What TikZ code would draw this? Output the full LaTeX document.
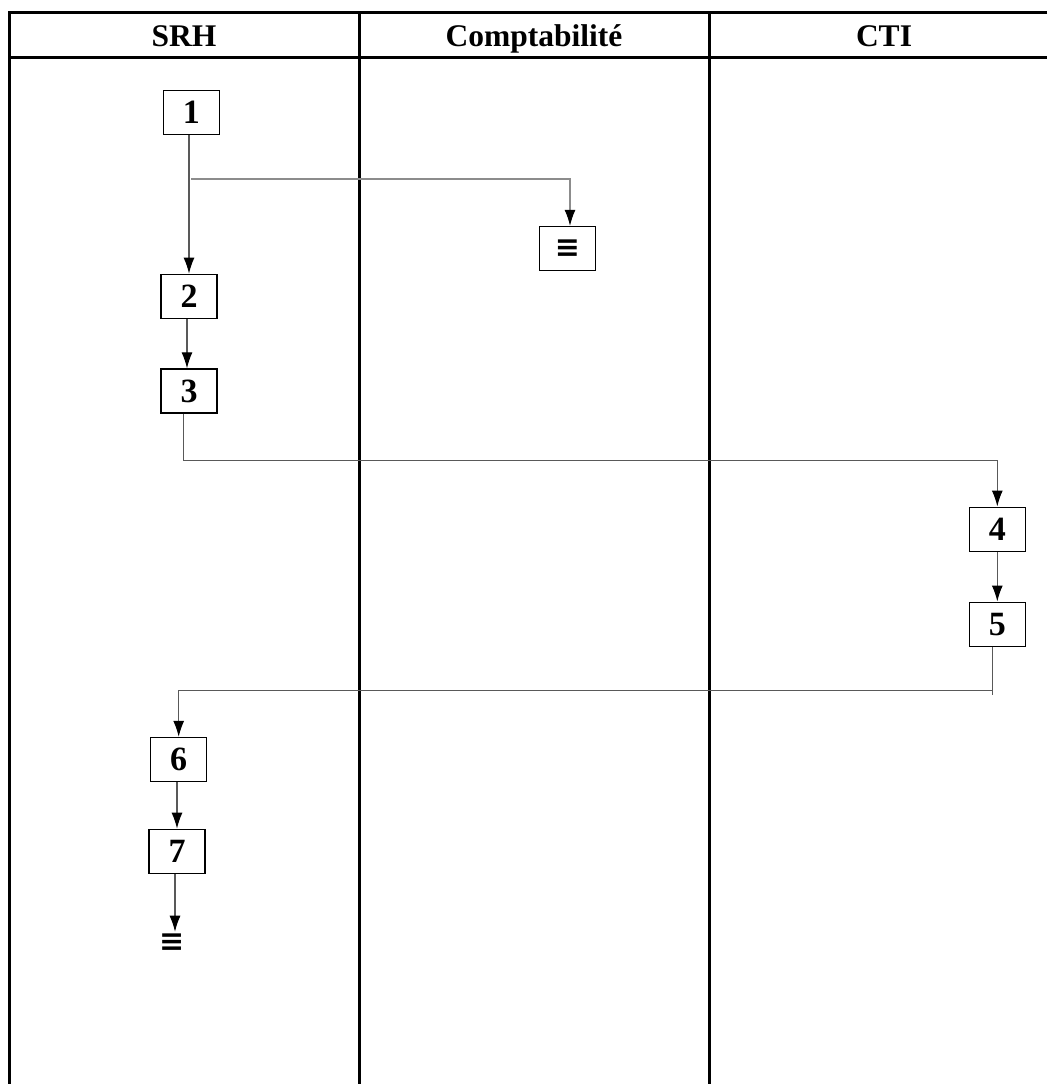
\documentclass[tikz,border=0pt]{standalone}
\usepackage{fontspec}
\setmainfont{Liberation Serif}
\newfontfamily\symfont{DejaVu Sans}
\usetikzlibrary{arrows.meta, calc}
\tikzset{
    lane/.style={line width=3pt},
    head/.style={anchor=base, font=\fontsize{31.5}{36}\selectfont\bfseries},
    stepbox/.style={rectangle, draw, line width=1.4pt, minimum width=56pt, minimum height=44pt, inner sep=0pt, font=\fontsize{34}{36}\selectfont\bfseries},
    docbox/.style={stepbox, font=\symfont\fontsize{30}{30}\selectfont\bfseries},
    docmark/.style={inner sep=0pt, font=\symfont\fontsize{30}{30}\selectfont\bfseries},
    link/.style={line width=1.1pt, black!65},
    arrow/.style={link, -{Latex[length=16pt, width=11pt, black]}},
}
\begin{document}
\begin{tikzpicture}[x=1pt, y=-1pt]
    \useasboundingbox (0,0) rectangle (1047,1084);
    \draw[lane] (1047,12) -- (9,12) -- (9,1084);
    \draw[lane] (9,57) -- (1047,57);
    \draw[lane] (359,12) -- (359,1084);
    \draw[lane] (709,12) -- (709,1084);
    \node[head] (hSRH) at (184,46.5) {SRH};
    \node[head] (hCompta) at (534,46.5) {Comptabilité};
    \node[head] (hCTI) at (884,46.5) {CTI};

    \node[stepbox] (b1) at (191.3,112.5) {1};
    \node[docbox] (doc1) at (567.5,248.5) {≡};
    \node[stepbox] (b2) at (189,296.3) {2};
    \node[stepbox] (b3) at (189,391) {3};
    \node[stepbox] (b4) at (997.3,529.2) {4};
    \node[stepbox] (b5) at (997.3,624.2) {5};
    \node[stepbox] (b6) at (178.7,759.5) {6};
    \node[stepbox] (b7) at (177,851.3) {7};
    \node[docmark] (doc2) at (171.7,942.5) {≡};
    \coordinate (fork) at (191,179);
    \coordinate (turn1) at (183.3,460.3);
    \coordinate (turn2) at (992.3,690.7);

    \draw[arrow] (b2.north |- b1.south) -- (b2.north);
    \draw[arrow, black!45] (fork) -| ([xshift=2.5pt]doc1.north);
    \draw[arrow] ([xshift=-2pt]b2.south) -- ([xshift=-2pt]b3.north);
    \draw[arrow] (b3.south -| turn1) -- (turn1) -| (b4.north);
    \draw[arrow] (b4) -- (b5);
    \draw[link] (b5.south -| turn2) -- ($(turn2)+(0,4)$);
    \draw[arrow] (turn2) -| (b6.north);
    \draw[arrow] (b7.north |- b6.south) -- (b7.north);
    \draw[arrow] ($(b7.south)+(-2,0)$) -- ($(doc2.center)+(3.3,-10.8)$);
\end{tikzpicture}
\end{document}
